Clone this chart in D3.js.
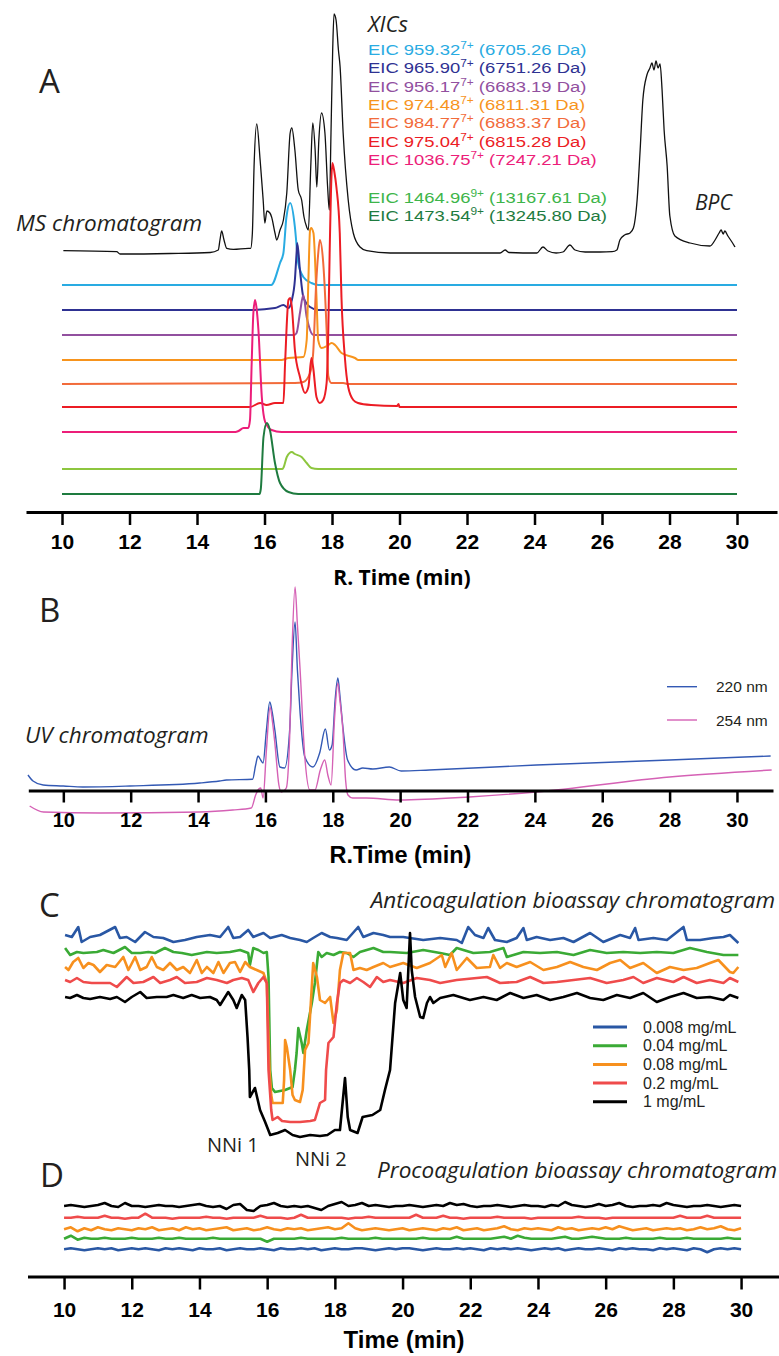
<!DOCTYPE html>
<html>
<head>
<meta charset="utf-8">
<script src="https://cdn.jsdelivr.net/npm/d3@7"></script>
<style>
  body { margin: 0; background: #fff; }
  svg { display: block; }
</style>
</head>
<body>
<svg id="chart" width="779" height="1356"></svg>
<script>
// ---------- Panel A: MS base peak chromatogram + XICs ----------
const bpc = [[10.04,1.3],[11.62,0.3],[11.72,-2],[13.2,-1.5],[14.39,-0.5],[14.63,2],[14.68,12],[14.73,21],[14.8,12],[14.88,3.7],
  [15.08,2.7],[15.52,3.7],[15.59,3.7],[15.64,18.7],[15.69,85],[15.77,128],[15.87,92],[15.96,52],[16.01,29],[16.07,41],
  [16.16,39],[16.21,35],[16.31,19],[16.36,12],[16.46,22],[16.56,32],[16.66,59],[16.76,119],[16.81,124],[16.9,102],
  [17.0,62],[17.1,52],[17.17,35],[17.25,25],[17.3,22],[17.37,85],[17.43,129],[17.5,102],[17.55,65],[17.61,112],
  [17.69,139],[17.79,119],[17.87,65],[17.92,42],[17.97,119],[18.02,202],[18.06,238],[18.12,232],[18.19,202],[18.24,185],
  [18.33,119],[18.48,52],[18.63,19],[18.83,5],[19.03,1.3],[19.72,-1],[22.98,-1],[23.13,2],[23.24,-0.5],[24.07,-1],
  [24.25,5],[24.4,1],[24.64,-1],[24.84,0],[25.05,7],[25.2,2],[25.5,0],[25.94,0],[26.3,0.3],[26.44,2],
  [26.53,12],[26.67,17],[26.83,19],[26.93,24],[27.04,52],[27.13,102],[27.21,152],[27.33,177],[27.42,184],[27.48,189],
  [27.54,182],[27.6,191],[27.66,184],[27.72,188],[27.78,162],[27.84,122],[27.93,86],[28.01,36],[28.16,16],[28.61,9],
  [29.2,6],[29.35,12],[29.47,19],[29.53,22],[29.59,18],[29.64,21],[29.73,16],[29.85,10],[29.94,5]];

const eic959 = [[10,0],[16.2,0],[16.46,22],[16.56,32],[16.65,68],[16.76,82],[16.9,58],[16.97,32],[17.0,22],[17.15,8],[17.39,2],[17.6,0],[30,0]];
const eic965 = [[10,0],[15.57,0],[16.31,2],[16.56,5],[16.71,2],[16.81,10],[16.9,30],[16.95,57],[16.97,67],[17.05,40],[17.15,13],[17.35,3],[17.6,0],[30,0]];
const eic956 = [[10,0],[16.88,0],[16.95,2],[17.05,22],[17.15,40],[17.25,18],[17.35,5],[17.45,0],[30,0]];
const eic974 = [[10,0],[16.5,0],[16.71,2],[17.15,3],[17.25,20],[17.3,80],[17.35,130],[17.38,132],[17.45,127],[17.54,63],
  [17.59,20],[17.69,12],[17.85,14],[17.99,17],[18.09,15],[18.28,7],[18.68,2],[18.78,0],[30,0]];
const eic984 = [[10,0],[16.9,1],[17.15,2],[17.35,11],[17.44,30],[17.53,100],[17.59,130],[17.64,144],[17.74,121],[17.84,54],
  [17.89,8],[17.98,1],[18.33,1],[18.48,0],[30,0]];
const eic975 = [[10,0],[15.57,0],[15.87,4],[16.06,2],[16.31,4],[16.56,4],[16.61,44],[16.71,107],[16.76,109],[16.81,100],
  [16.9,57],[17.05,30],[17.2,14],[17.3,20],[17.39,49],[17.44,40],[17.54,10],[17.64,4],[17.74,7],[17.84,24],
  [17.89,77],[17.93,154],[18.01,244],[18.07,235],[18.13,220],[18.23,174],[18.28,110],[18.38,50],[18.48,20],[18.63,7],
  [18.77,4],[19.16,2],[19.93,1],[19.97,3],[20.0,0],[30,0]];
const eic1036 = [[10,0],[15.14,0],[15.23,1],[15.38,4],[15.52,4],[15.57,12],[15.62,69],[15.67,119],[15.72,132],[15.76,125],
  [15.82,102],[15.92,35],[16.02,10],[16.21,2],[16.5,0],[30,0]];
const eic1464 = [[10,0],[16.53,0],[16.57,2],[16.66,12],[16.81,17],[16.9,15],[17.1,12],[17.25,6],[17.39,1],[17.59,0],[30,0]];
const eic1473 = [[10,0],[15.85,0],[15.89,5],[15.97,57],[16.07,71],[16.16,64],[16.31,31],[16.46,11],[16.71,2],[17.0,0],[30,0]];

const eicMz = ["959.32", "965.90", "956.17", "974.48", "984.77", "975.04", "1036.75", "1464.96", "1473.54"];
const eicCharge = ["7+", "7+", "7+", "7+", "7+", "7+", "7+", "9+", "9+"];
const eicMass = ["6705.26", "6751.26", "6683.19", "6811.31", "6883.37", "6815.28", "7247.21", "13167.61", "13245.80"];
const eicTraces = [eic959, eic965, eic956, eic974, eic984, eic975, eic1036, eic1464, eic1473];

const axisTicks = [10, 12, 14, 16, 18, 20, 22, 24, 26, 28, 30];

// ---------- Panel B: UV chromatogram ----------
const uv220 = [[8.95,15],[9.1,9],[9.4,5],[10.0,4],[10.58,3],[11.98,4],[14.05,7],[14.64,9],[14.84,10],[15.62,10.7],
  [15.71,25],[15.78,34],[15.86,30],[15.93,27],[16.03,60],[16.13,88],[16.2,78],[16.28,60],[16.43,23],[16.57,22],
  [16.72,60],[16.79,120],[16.88,168],[16.95,120],[17.03,77],[17.17,33],[17.41,23],[17.61,37],[17.78,61],[17.9,40],
  [17.98,45],[18.07,90],[18.15,112],[18.21,95],[18.3,63],[18.44,30],[18.69,20],[18.89,22],[19.19,21],[19.68,23],
  [20.03,19],[20.87,20],[24.05,25],[28.0,30],[31.0,34]];
const uv254 = [[9.0,-16],[9.41,-22],[11.09,-23],[14.05,-22],[15.03,-20],[15.58,-18],[15.71,-5],[15.78,0],[15.86,2],[15.93,-8],
  [16.03,40],[16.14,83],[16.21,68],[16.28,47],[16.4,5],[16.47,-2],[16.62,2],[16.72,53],[16.79,140],[16.88,203],
  [16.95,165],[17.03,120],[17.17,33],[17.32,0],[17.47,0],[17.63,20],[17.76,30],[17.86,14],[17.95,5],[18.05,70],
  [18.15,107],[18.21,90],[18.3,60],[18.38,10],[18.45,-5],[18.59,-8],[18.99,-8],[19.98,-10],[22.05,-7],[24.03,-2],
  [28.0,13],[31.03,20]];
const uvLabels = ["220 nm", "254 nm"];

// ---------- Panel C: anticoagulation bioassay ----------
const antiBlue = [[10.03,205],[10.23,203],[10.42,213],[10.52,198],[10.77,203],[11.06,205],[11.51,213],[11.65,202],[11.85,203],[12.1,198],
  [12.39,208],[12.64,203],[12.93,202],[13.23,198],[13.57,200],[13.92,203],[14.31,205],[14.61,203],[14.85,213],[15.0,202],
  [15.2,203],[15.44,210],[15.59,203],[15.89,207],[16.09,202],[16.43,205],[16.68,202],[16.97,200],[17.17,198],[17.36,202],
  [17.61,207],[17.86,203],[18.06,202],[18.35,200],[18.69,213],[18.84,203],[19.14,207],[19.43,205],[19.63,203],[20.02,203],
  [20.61,200],[21.11,202],[21.6,200],[21.75,197],[21.94,213],[22.14,205],[22.39,202],[22.53,212],[22.73,200],[23.08,198],
  [23.37,202],[23.57,212],[23.67,200],[23.96,203],[24.36,200],[24.75,202],[25.05,198],[25.54,207],[25.93,198],[26.43,205],
  [26.72,202],[26.87,212],[26.97,200],[27.41,202],[27.81,200],[28.3,213],[28.4,200],[28.79,200],[29.18,202],[29.48,203],
  [29.67,205],[29.92,197]];
const antiGreen = [[10.03,192],[10.18,185],[10.38,188],[10.57,187],[10.97,188],[11.16,190],[11.46,187],[11.8,193],[12.0,187],[12.25,187],
  [12.49,188],[12.69,187],[12.98,192],[13.23,188],[13.48,187],[13.77,185],[14.22,188],[14.51,187],[14.9,188],[15.2,190],
  [15.44,187],[15.49,175],[15.59,192],[15.74,190],[15.89,187],[15.99,188],[16.04,163],[16.09,70],[16.14,52],[16.23,48],
  [16.53,50],[16.75,53],[16.82,70],[16.87,87],[16.92,112],[17.02,97],[17.07,87],[17.17,110],[17.32,137],[17.41,157],
  [17.51,188],[17.61,183],[17.76,187],[17.96,185],[18.15,188],[18.35,187],[18.55,183],[18.74,188],[19.14,192],[19.43,188],
  [19.63,188],[20.12,187],[20.61,190],[21.11,187],[21.4,185],[21.6,192],[22.09,187],[22.58,188],[22.98,192],[23.08,183],
  [23.57,188],[24.06,187],[24.56,188],[25.05,185],[25.54,190],[26.03,187],[26.52,188],[27.02,187],[27.51,188],[28.0,187],
  [28.49,192],[28.99,188],[29.48,185],[29.92,185]];
const antiOrange = [[10.03,173],[10.13,170],[10.27,178],[10.42,182],[10.57,172],[10.72,177],[10.87,175],[11.06,168],[11.26,175],[11.51,173],
  [11.75,183],[11.9,170],[12.1,183],[12.25,170],[12.44,173],[12.59,183],[12.74,173],[12.93,170],[13.13,177],[13.33,170],
  [13.52,173],[13.72,167],[13.92,180],[14.07,167],[14.22,173],[14.41,167],[14.56,178],[14.71,167],[14.9,177],[15.05,178],
  [15.2,168],[15.35,178],[15.49,173],[15.69,170],[15.89,167],[15.99,157],[16.07,70],[16.12,45],[16.16,37],[16.46,37],
  [16.5,60],[16.53,100],[16.58,93],[16.68,70],[16.75,45],[16.82,40],[16.97,38],[17.05,50],[17.12,90],[17.22,97],
  [17.36,177],[17.47,163],[17.56,140],[17.71,137],[17.86,143],[17.96,117],[18.06,130],[18.15,170],[18.25,187],[18.45,187],
  [18.55,170],[18.74,172],[18.94,170],[19.14,173],[19.43,177],[19.63,173],[20.02,177],[20.42,172],[20.81,177],[21.16,185],
  [21.26,173],[21.45,187],[21.6,170],[21.9,182],[22.19,172],[22.58,173],[22.68,185],[22.88,172],[23.08,177],[23.37,173],
  [23.77,178],[24.16,170],[24.56,173],[24.95,178],[25.34,173],[25.74,170],[26.13,177],[26.43,180],[26.72,172],[27.11,177],
  [27.51,167],[27.9,173],[28.3,170],[28.69,172],[29.08,177],[29.33,180],[29.67,168],[29.77,167],[29.92,173]];
const antiRed = [[10.03,160],[10.18,158],[10.38,162],[10.57,158],[10.82,157],[11.06,157],[11.36,157],[11.56,153],[11.85,163],[12.05,157],
  [12.34,158],[12.64,163],[12.84,157],[13.13,160],[13.33,163],[13.57,157],[13.92,158],[14.22,162],[14.51,160],[14.81,157],
  [15.0,160],[15.25,162],[15.44,160],[15.59,148],[15.74,157],[15.89,163],[15.99,157],[16.04,70],[16.12,30],[16.16,20],
  [16.31,23],[16.44,19],[16.68,18],[16.97,18],[17.27,19],[17.41,20],[17.56,37],[17.71,40],[17.74,70],[17.81,97],
  [17.96,103],[18.06,137],[18.15,157],[18.25,160],[18.45,157],[18.65,162],[18.84,158],[19.04,153],[19.24,163],[19.43,158],
  [19.63,160],[20.02,157],[20.42,162],[20.81,160],[21.11,157],[21.6,160],[22.19,162],[22.49,163],[22.88,157],[23.37,158],
  [23.77,163],[24.16,157],[24.56,158],[25.05,160],[25.54,162],[26.03,157],[26.52,160],[26.82,163],[27.11,157],[27.51,162],
  [28.0,158],[28.3,163],[28.69,157],[29.08,160],[29.48,157],[29.67,162],[29.92,158]];
const antiBlack = [[10.03,143],[10.18,142],[10.38,145],[10.57,142],[10.77,141],[11.06,143],[11.36,141],[11.56,143],[11.8,138],[12.0,143],
  [12.25,148],[12.44,142],[12.74,143],[13.03,143],[13.23,145],[13.52,142],[13.77,145],[14.02,142],[14.31,143],[14.51,140],
  [14.61,135],[14.85,148],[15.0,140],[15.1,132],[15.25,145],[15.35,140],[15.42,103],[15.47,70],[15.49,43],[15.64,52],
  [15.79,30],[15.94,18],[16.09,5],[16.31,7],[16.53,10],[16.75,5],[16.97,3],[17.27,5],[17.56,4],[17.78,5],
  [18.0,10],[18.15,10],[18.3,62],[18.38,23],[18.45,10],[18.67,7],[18.82,23],[19.11,25],[19.34,30],[19.48,50],
  [19.63,70],[19.78,137],[19.93,167],[20.02,140],[20.12,132],[20.17,170],[20.22,207],[20.27,170],[20.37,143],[20.52,123],
  [20.61,122],[20.72,137],[20.81,143],[20.91,137],[21.11,142],[21.5,145],[21.99,140],[22.39,143],[22.78,140],[23.18,147],
  [23.57,142],[23.96,145],[24.36,140],[24.75,143],[25.15,147],[25.54,142],[25.93,140],[26.33,145],[26.72,142],[27.11,147],
  [27.51,138],[27.9,143],[28.3,147],[28.69,142],[29.08,143],[29.48,140],[29.67,145],[29.92,142]];
const concLabels = ["0.008 mg/mL", "0.04 mg/mL", "0.08 mg/mL", "0.2 mg/mL", "1 mg/mL"];

// ---------- Panel D: procoagulation bioassay (deviation from each trace's baseline, 0.2 min steps) ----------
const procStart = 10, procStep = 0.2;
const procBlack = [0,1,0,-1,0,1,3,0,-1,3, 0,0,-1,0,1,0,0,-1,0,1, 2,0,-1,0,-3,1,2,-4,-5,0, 1,3,0,-1,0,-1,0,-2,-4,0,
  2,4,0,1,3,0,1,0,-1,0, 0,1,0,-1,0,1,0,3,1,2, 0,-1,0,0,1,0,-1,0,1,0, 0,-1,1,0,4,1,0,-1,0,2,
  0,1,3,0,-1,0,0,1,0,3, 1,0,-1,0,0,1,0,-1,0,1, 0];
const procRed = [0,0,1,0,0,0,2,0,0,-1, 0,0,4,0,0,0,-1,0,0,0, 0,1,0,0,-1,0,0,0,0,2, 0,0,0,-1,0,3,0,0,0,0,
  0,0,-1,0,0,1,0,0,0,0, 0,0,3,0,0,0,2,0,0,-1, 0,0,0,0,1,0,0,0,0,-1, 0,0,0,0,0,0,1,0,0,0,
  -1,0,0,0,0,0,0,0,0,0, 0,2,0,0,0,2,0,0,0,0, 0];
const procOrange = [0,2,-2,1,-1,2,0,-1,1,0, -1,1,0,2,-1,0,1,-1,2,0, 1,-1,0,1,2,-1,0,1,-1,0, 2,0,-1,1,0,1,-1,0,1,2,
  0,1,6,1,-1,0,1,0,-1,0, 1,-1,0,1,0,-1,1,0,2,-1, 0,1,-1,0,1,3,0,-1,1,0, 1,0,-1,2,0,1,-1,0,1,0,
  2,0,3,1,-1,0,1,-1,0,1, 0,1,-1,0,2,0,1,3,0,-1, 1];
const procGreen = [0,3,-1,1,0,0,1,0,0,0, 1,0,0,0,1,0,0,1,0,0, 0,0,1,0,0,0,0,0,0,0, -3,0,0,0,0,1,0,0,0,0,
  0,1,0,0,0,0,1,0,0,0, 0,0,0,1,0,0,0,0,2,0, 0,0,0,0,1,2,0,3,1,0, 0,0,0,1,2,0,0,1,2,1,
  0,0,0,1,0,0,0,0,1,0, 0,0,1,0,0,0,0,0,1,0, 0];
const procBlue = [0,1,0,-1,0,1,0,1,-1,0, 1,0,1,0,-1,1,0,1,0,-1, 1,0,0,1,-1,0,1,0,0,1, 0,-1,1,0,0,1,0,1,-1,0,
  1,0,0,1,1,0,-1,0,1,0, 1,1,0,-1,0,1,0,0,1,0, 1,0,-1,1,0,1,0,1,0,-1, 0,1,0,1,-1,0,1,0,0,1,
  0,-1,1,0,1,0,0,-1,1,0, 1,0,-1,1,0,-3,0,1,0,1, 0];

// ---------- layout / style ----------
const svg = d3.select("#chart");
const ink = "#231f20";
const humanist = "'Open Sans', 'Noto Sans', sans-serif";
const arial = "'Liberation Sans', Arial, sans-serif";

const eicColors = ["#29abe2", "#2e3192", "#92509f", "#f7941d", "#f26b3a", "#ec1c24", "#ec1e79", "#8dc63f", "#1e7b3f"];
const eicTextColors = ["#29abe2", "#2e3192", "#92509f", "#f7941d", "#f26b3a", "#ec1c24", "#ec1e79", "#3db54a", "#1e7b3f"];
const eicStack = [-33, -58, -83, -108, -132, -155, -180, -217, -242];
const uvColors = ["#3359b4", "#d561b5"];
const concColors = ["#2957a4", "#3aaa35", "#f7901e", "#ef4b4b", "#000000"];
const procStack = [26.7, 37.3, 46.7, 58.3, 70];

const xA = d3.scaleLinear().domain([8.933, 31.185]).range([26, 777]);
const yA = d3.scaleLinear().domain([0, 240]).range([252, 12]);
const xB = d3.scaleLinear().domain([8.96, 31.07]).range([28.3, 773]);
const yB = d3.scaleLinear().domain([0, 210]).range([790, 580]);
const xCD = d3.scaleLinear().domain([8.92, 31.15]).range([27.5, 780]);
const yC = d3.scaleLinear().domain([0, 210]).range([1140, 930]);
const yD = d3.scaleLinear().domain([0, 80]).range([1276, 1196]);

function trace(data, x, y, color, width, curve) {
  const line = d3.line().x(d => x(d[0])).y(d => y(d[1])).curve(curve || d3.curveLinear);
  svg.append("path").datum(data)
    .attr("d", line)
    .attr("fill", "none")
    .attr("stroke", color)
    .attr("stroke-width", width)
    .attr("stroke-linejoin", "round");
}

function label(txt, x, y, size, opts = {}) {
  return svg.append("text")
    .attr("x", x).attr("y", y)
    .attr("font-family", opts.family || humanist)
    .attr("font-size", size)
    .attr("font-style", opts.italic ? "italic" : "normal")
    .attr("font-weight", opts.bold ? "bold" : "normal")
    .attr("text-anchor", opts.anchor || "start")
    .attr("fill", opts.fill || ink)
    .text(txt);
}

function timeAxis(x, yPos, tickLen, pad, size) {
  const axis = d3.axisBottom(x).tickValues(axisTicks).tickSize(tickLen).tickSizeOuter(0).tickPadding(pad);
  const g = svg.append("g").attr("transform", `translate(0,${yPos})`).call(axis);
  g.select(".domain").attr("stroke", "#000").attr("stroke-width", 3);
  g.selectAll(".tick line").attr("stroke", "#000").attr("stroke-width", 2.5);
  g.selectAll(".tick text")
    .attr("font-family", arial)
    .attr("font-size", size)
    .attr("font-weight", "bold")
    .attr("fill", "#000");
  return g;
}

// ---------- Panel A ----------
label("A", 39, 93, 33);
label("MS chromatogram", 16, 231, 22.5, { italic: true });
label("XICs", 368, 32, 22, { italic: true });
label("BPC", 695, 210, 21, { italic: true });

trace(bpc, xA, yA, "#111", 1.3, d3.curveMonotoneX);
eicTraces.forEach((d, i) => {
  const shifted = d.map(p => [p[0], p[1] + eicStack[i]]);
  trace(shifted, xA, yA, eicColors[i], 2, d3.curveMonotoneX);
});

// legend text is slightly wide in the original, so stretch it horizontally
const eicRowY = [55, 73.3, 91.6, 109.9, 128.2, 146.5, 164.8, 203, 221.3];
eicMz.forEach((mz, i) => {
  const t = svg.append("text")
    .attr("transform", `translate(368,${eicRowY[i]}) scale(1.19,1)`)
    .attr("font-family", arial)
    .attr("font-size", 15.5)
    .attr("fill", eicTextColors[i]);
  t.append("tspan").text(`EIC ${mz}`);
  t.append("tspan").attr("dy", -6).attr("font-size", 10).text(eicCharge[i]);
  t.append("tspan").attr("dy", 6).text(` (${eicMass[i]} Da)`);
});

timeAxis(xA, 512, 13, 9, 21);
label("R. Time (min)", 402, 585, 21, { bold: true, anchor: "middle", fill: "#000" });

// ---------- Panel B ----------
label("B", 39, 622, 33);
label("UV chromatogram", 25, 743, 22.5, { italic: true });
trace(uv220, xB, yB, uvColors[0], 1.4, d3.curveMonotoneX);
trace(uv254, xB, yB, uvColors[1], 1.4, d3.curveMonotoneX);
uvLabels.forEach((lab, i) => {
  const ly = 686.7 + i * 33.3;
  svg.append("line").attr("x1", 667).attr("x2", 697).attr("y1", ly).attr("y2", ly)
    .attr("stroke", uvColors[i]).attr("stroke-width", 1.4);
  label(lab, 716, ly + 5.5, 15.5, { family: arial });
});
timeAxis(xB, 790.5, 12, 10, 20);
label("R.Time (min)", 400.5, 863, 23.5, { bold: true, anchor: "middle", family: arial, fill: "#000" });

// ---------- Panel C ----------
label("C", 39, 917, 33);
label("Anticoagulation bioassay chromatogram", 775, 908, 22.5, { italic: true, anchor: "end" });
[antiBlue, antiGreen, antiOrange, antiRed, antiBlack].forEach((d, i) => {
  trace(d, xCD, yC, concColors[i], 2.6);
});
concLabels.forEach((lab, i) => {
  const ly = 1027 + i * 18.7;
  svg.append("line").attr("x1", 593).attr("x2", 627).attr("y1", ly).attr("y2", ly)
    .attr("stroke", concColors[i]).attr("stroke-width", 3);
  label(lab, 643, ly + 5.5, 16, { family: arial });
});
label("NNi 1", 207, 1152, 20);
label("NNi 2", 295, 1166, 20);

// ---------- Panel D ----------
label("D", 40, 1187, 33);
label("Procoagulation bioassay chromatogram", 777, 1178, 22.5, { italic: true, anchor: "end" });
[procBlue, procGreen, procOrange, procRed, procBlack].forEach((dev, i) => {
  const d = dev.map((v, k) => [procStart + k * procStep, procStack[i] + v]);
  trace(d, xCD, yD, concColors[i], 2.6);
});
timeAxis(xCD, 1276.5, 13, 13, 21);
label("Time (min)", 404, 1348, 24, { bold: true, anchor: "middle", family: arial, fill: "#000" });
</script>
</body>
</html>
